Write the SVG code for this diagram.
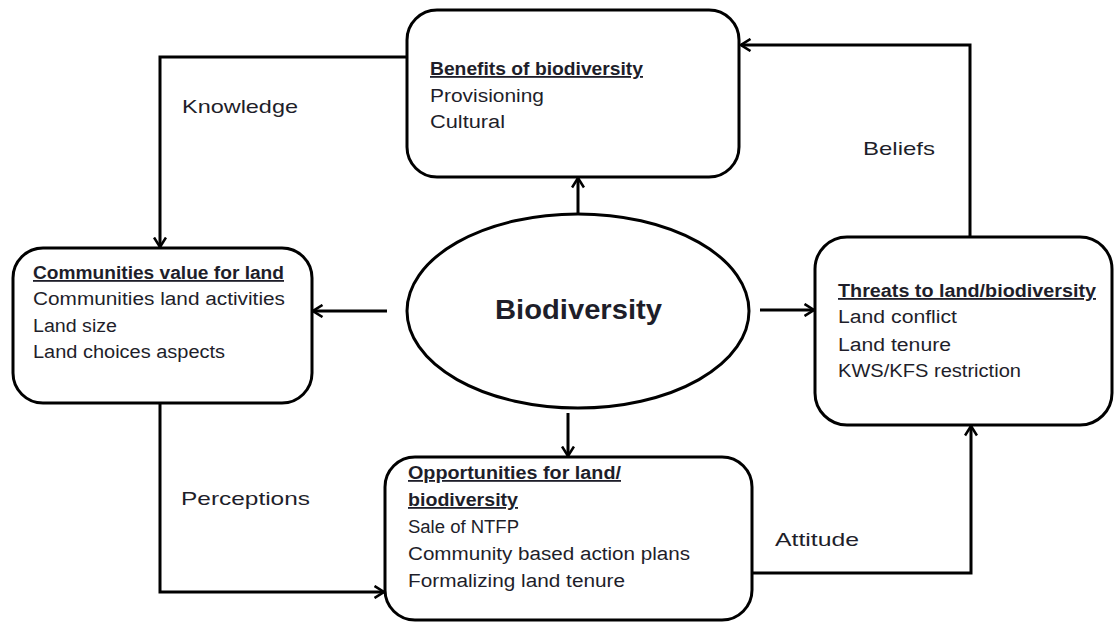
<svg xmlns="http://www.w3.org/2000/svg" width="1115" height="622" viewBox="0 0 1115 622">
<style>
.box{fill:#fff;stroke:#000;stroke-width:3}
.con{fill:none;stroke:#000;stroke-width:3;marker-end:url(#arr)}
text{font-family:"Liberation Sans",Arial,sans-serif;font-size:18px;fill:#1e1e2a}
.h{font-weight:bold;text-decoration:underline}
.lab{font-size:19px}
.big{font-size:27px;font-weight:bold}
</style>
<defs>
<marker id="arr" viewBox="0 0 12 14" refX="10.5" refY="7" markerWidth="12" markerHeight="14" markerUnits="userSpaceOnUse" orient="auto">
<path d="M1,1 L10.5,7 L1,13" fill="none" stroke="#000" stroke-width="2.6"/>
</marker>
</defs>
<rect width="1115" height="622" fill="#fff"/>
<g id="connectors">
<path class="con" d="M407,57 H160 V247"/>
<path class="con" d="M970,237 V45 H741"/>
<path class="con" d="M751,573 H971 V426"/>
<path class="con" d="M160,403 V592 H384"/>
<path class="con" d="M578,213 V178"/>
<path class="con" d="M387,311 H313"/>
<path class="con" d="M760,310 H814"/>
<path class="con" d="M568,413 V456"/>
</g>
<g id="benefits">
<rect class="box" x="407" y="10" width="332" height="167" rx="30"/>
<text class="h" x="430" y="75" textLength="213" lengthAdjust="spacingAndGlyphs">Benefits of biodiversity</text>
<text x="430" y="102" textLength="114" lengthAdjust="spacingAndGlyphs">Provisioning</text>
<text x="430" y="128" textLength="75" lengthAdjust="spacingAndGlyphs">Cultural</text>
</g>
<g id="communities">
<rect class="box" x="13" y="248" width="299" height="155" rx="30"/>
<text class="h" x="33" y="279" textLength="251" lengthAdjust="spacingAndGlyphs">Communities value for land</text>
<text x="33" y="305" textLength="252" lengthAdjust="spacingAndGlyphs">Communities land activities</text>
<text x="33" y="332" textLength="84" lengthAdjust="spacingAndGlyphs">Land size</text>
<text x="33" y="358" textLength="192" lengthAdjust="spacingAndGlyphs">Land choices aspects</text>
</g>
<g id="biodiversity">
<ellipse class="box" cx="578" cy="311" rx="171" ry="97" stroke-width="2.5"/>
<text class="big" x="495" y="319" textLength="167" lengthAdjust="spacingAndGlyphs">Biodiversity</text>
</g>
<g id="threats">
<rect class="box" x="815" y="237" width="297" height="188" rx="32"/>
<text class="h" x="838" y="297" textLength="258" lengthAdjust="spacingAndGlyphs">Threats to land/biodiversity</text>
<text x="838" y="323" textLength="119" lengthAdjust="spacingAndGlyphs">Land conflict</text>
<text x="838" y="351" textLength="113" lengthAdjust="spacingAndGlyphs">Land tenure</text>
<text x="838" y="377" textLength="183" lengthAdjust="spacingAndGlyphs">KWS/KFS restriction</text>
</g>
<g id="opportunities">
<rect class="box" x="385" y="457" width="367" height="163" rx="30"/>
<text class="h" x="408" y="479" textLength="213" lengthAdjust="spacingAndGlyphs">Opportunities for land/</text>
<text class="h" x="408" y="506" textLength="110" lengthAdjust="spacingAndGlyphs">biodiversity</text>
<text x="408" y="533" textLength="111" lengthAdjust="spacingAndGlyphs">Sale of NTFP</text>
<text x="408" y="560" textLength="282" lengthAdjust="spacingAndGlyphs">Community based action plans</text>
<text x="408" y="587" textLength="217" lengthAdjust="spacingAndGlyphs">Formalizing land tenure</text>
</g>
<g id="labels">
<text class="lab" x="182" y="113" textLength="116" lengthAdjust="spacingAndGlyphs">Knowledge</text>
<text class="lab" x="863" y="155" textLength="72" lengthAdjust="spacingAndGlyphs">Beliefs</text>
<text class="lab" x="181" y="505" textLength="129" lengthAdjust="spacingAndGlyphs">Perceptions</text>
<text class="lab" x="775" y="546" textLength="84" lengthAdjust="spacingAndGlyphs">Attitude</text>
</g>
</svg>
